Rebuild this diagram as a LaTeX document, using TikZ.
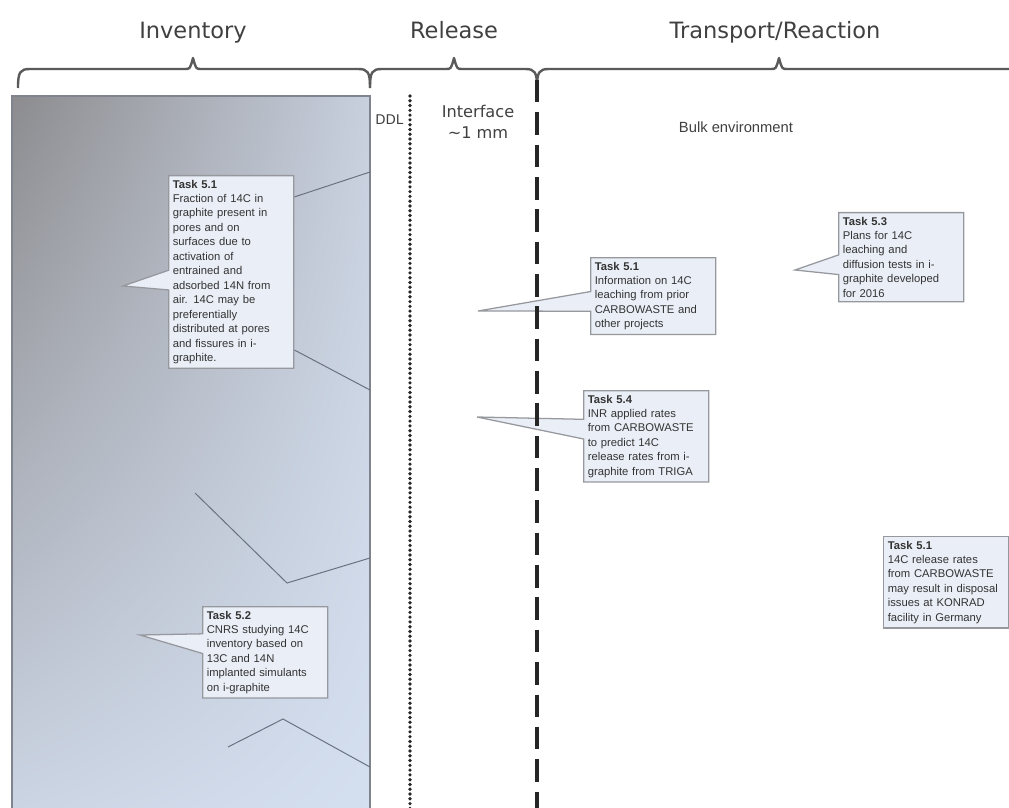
\documentclass[tikz,border=0pt]{standalone}
\usepackage{fontspec}
\setmainfont{Liberation Sans}
\newfontfamily\headfont{DejaVu Sans}
\usetikzlibrary{shapes.callouts,shadings}

\definecolor{rectdark}{RGB}{140,140,143}
\definecolor{recttr}{RGB}{200,208,222}
\definecolor{rectbl}{RGB}{204,213,228}
\definecolor{rectlight}{RGB}{212,223,240}
\definecolor{rectedge}{RGB}{128,132,142}
\definecolor{boxfill}{RGB}{234,239,247}
\definecolor{boxline}{RGB}{150,152,158}
\definecolor{zoomcol}{RGB}{105,112,128}
\definecolor{bracecol}{RGB}{90,90,90}

\newcommand\topbrace[3]{%
  \draw[bracestyle] (#1,88) .. controls (#1,72) and (#1+2,69) .. (#1+12,69) -- (#2-8,69)
    .. controls (#2-3,69) .. (#2,58) .. controls (#2+3,69) .. (#2+8,69) -- (#3-12,69)
    .. controls (#3-2,69) and (#3,72) .. (#3,88);}

\begin{document}
\begin{tikzpicture}[x=0.025cm,y=-0.025cm,
    bracestyle/.style={draw=bracecol,line width=1.7pt,line join=round},
    head/.style={font=\headfont\fontsize{16}{19}\selectfont,text=black!75,anchor=base},
    task/.style={rectangle callout,draw=boxline,fill=boxfill,line width=0.9pt,text=black!80,
      font=\fontsize{8}{10.3}\selectfont,text width=83pt,align=left,inner sep=3pt,
      anchor=north west,callout pointer width=14pt},
    zoomline/.style={draw=zoomcol,line width=0.7pt}]
  \useasboundingbox (0,0) rectangle (1009,808);

  % headings and braces
  \node[head] (inv) at (193,39) {Inventory};
  \node[head] (rel) at (454,39) {Release};
  \node[head] (tra) at (775,39) {Transport/Reaction};
  \topbrace{18}{193}{370}
  \topbrace{370}{454}{537}
  \topbrace{537}{779}{1021}

  % graphite block
  \shade[upper left=rectdark,upper right=recttr,lower left=rectbl,lower right=rectlight]
    (12,96) rectangle (370,815);
  \draw[rectedge,line width=0.8pt] (12,815) -- (12,96) -- (370,96) -- (370,815);

  \coordinate (e1) at (370,172);
  \coordinate (e2) at (370,390);
  \coordinate (p1) at (123,286);
  \coordinate (p2) at (140,635);
  \coordinate (p3) at (478,311);
  \coordinate (p4) at (477,417);
  \coordinate (p5) at (795,270);

  \draw[zoomline] (195,493) -- (287,583) -- (370,558);
  \draw[zoomline] (228,747) -- (283,719) -- (370,767);

  \draw[line width=2.6pt,line cap=round,dash pattern=on 0pt off 3.4pt,black!85] (410,96) -- (410,815);
  \node[font=\headfont\fontsize{9.5}{11}\selectfont,text=black!75,anchor=base east,inner sep=1pt] (ddl) at (405,124) {DDL};
  \node[font=\headfont\fontsize{11.5}{15}\selectfont,text=black!75,align=center,anchor=north] (intf) at (478,100) {Interface\\\textasciitilde1 mm};
  \node[font=\fontsize{10.5}{12}\selectfont,text=black!75] (bulk) at (736,127) {Bulk environment};

  % task boxes
  \node[task,callout absolute pointer={(p1)}] (t51a) at (168,175) {\textbf{Task 5.1}\\
    Fraction of 14C in\\ graphite present in\\ pores and on\\ surfaces due to\\ activation of\\
    entrained and\\ adsorbed 14N from\\ air. 14C may be\\ preferentially\\
    distributed at pores\\ and fissures in i-\\ graphite.};
  \node[task,callout absolute pointer={(p2)}] (t52) at (202,606) {\textbf{Task 5.2}\\
    CNRS studying 14C\\ inventory based on\\ 13C and 14N\\ implanted simulants\\ on i-graphite};
  \node[task,callout absolute pointer={(p3)}] (t51b) at (590,257) {\textbf{Task 5.1}\\
    Information on 14C\\ leaching from prior\\ CARBOWASTE and\\ other projects};
  \node[task,callout absolute pointer={(p4)}] (t54) at (583,390) {\textbf{Task 5.4}\\
    INR applied rates\\ from CARBOWASTE\\ to predict 14C\\ release rates from i-\\ graphite from TRIGA};
  \node[task,callout absolute pointer={(p5)}] (t53) at (838,212) {\textbf{Task 5.3}\\
    Plans for 14C\\ leaching and\\ diffusion tests in i-\\ graphite developed\\ for 2016};
  \node[task,rectangle] (t51c) at (883,536) {\textbf{Task 5.1}\\
    14C release rates\\ from CARBOWASTE\\ may result in disposal\\ issues at KONRAD\\ facility in Germany};

  \draw[zoomline] ([yshift=-15.6pt]t51a.north east) -- (e1);
  \draw[zoomline] ([yshift=13.5pt]t51a.south east) -- (e2);

  \draw[line width=2.4pt,dash pattern=on 16pt off 7pt,black!85] (537,80) -- (537,815);
\end{tikzpicture}
\end{document}
